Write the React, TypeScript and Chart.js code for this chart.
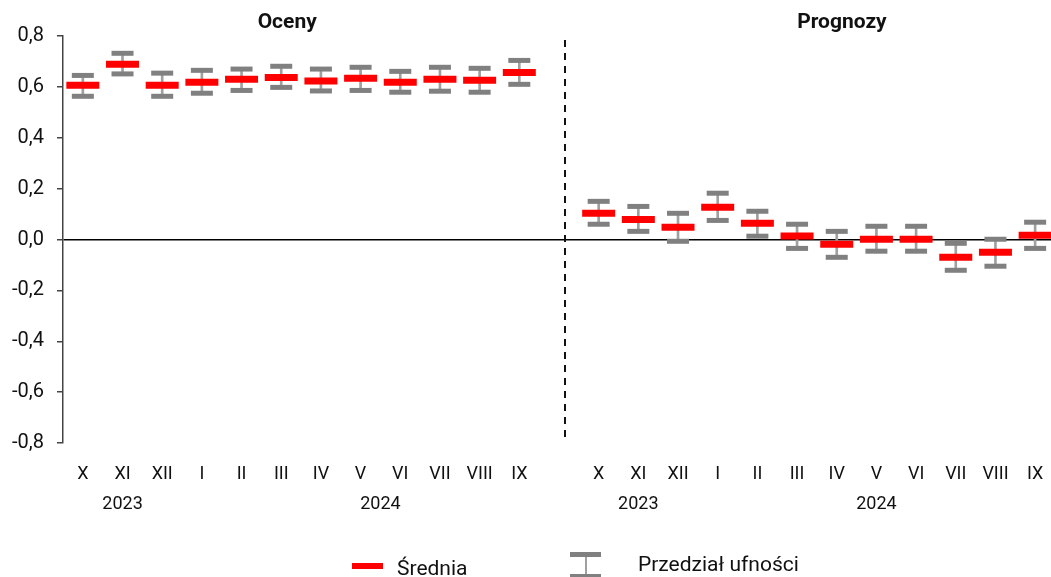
import React, { useEffect, useRef } from "react";
import { Chart, registerables } from "chart.js";

Chart.register(...registerables);

// ---- data ----
const months = ["X", "XI", "XII", "I", "II", "III", "IV", "V", "VI", "VII", "VIII", "IX"];
const ocenyMean = [0.606, 0.689, 0.606, 0.618, 0.63, 0.637, 0.623, 0.634, 0.618, 0.63, 0.626, 0.657];
const ocenyUpper = [0.645, 0.732, 0.654, 0.665, 0.67, 0.681, 0.67, 0.677, 0.661, 0.677, 0.673, 0.704];
const ocenyLower = [0.563, 0.651, 0.563, 0.575, 0.586, 0.598, 0.584, 0.586, 0.579, 0.583, 0.579, 0.61];
const prognozyMean = [0.103, 0.079, 0.048, 0.127, 0.064, 0.014, -0.019, 0.001, 0.001, -0.07, -0.05, 0.017];
const prognozyUpper = [0.15, 0.13, 0.103, 0.182, 0.111, 0.06, 0.032, 0.052, 0.052, -0.015, 0.001, 0.068];
const prognozyLower = [0.06, 0.032, -0.007, 0.075, 0.013, -0.035, -0.07, -0.046, -0.046, -0.121, -0.105, -0.035];
const yearLabels = ["2023", "2024", "2023", "2024"];
const yearPositions = [1, 7.5, 14, 20];
const panelTitles = ["Oceny", "Prognozy"];
const panelTitlePositions = [5.15, 19.13];
const dividerPosition = 12.15;
const yTickValues = [-0.8, -0.6, -0.4, -0.2, 0, 0.2, 0.4, 0.6, 0.8];

const rightOffset = months.length + 1;
const positions = [
  ...months.map((_, i) => i),
  ...months.map((_, i) => i + rightOffset),
];
const allLabels = [...months, ...months];
const allMean = [...ocenyMean, ...prognozyMean];
const allUpper = [...ocenyUpper, ...prognozyUpper];
const allLower = [...ocenyLower, ...prognozyLower];

const FONT = "Roboto";

const overlayPlugin = {
  id: "overlay",
  beforeDatasetsDraw(chart: any) {
    const { ctx, scales } = chart;
    const x = scales.x;
    const y = scales.y;
    const px = Math.round(x.getPixelForValue(dividerPosition));
    ctx.save();
    ctx.setLineDash([7, 6]);
    ctx.strokeStyle = "#111";
    ctx.lineWidth = 2;
    ctx.beginPath();
    ctx.moveTo(px, y.top + 4);
    ctx.lineTo(px, y.bottom);
    ctx.stroke();
    ctx.restore();
  },
  afterDraw(chart: any) {
    const { ctx, scales } = chart;
    const x = scales.x;
    const y = scales.y;
    ctx.save();
    ctx.fillStyle = "#111";
    ctx.textAlign = "center";
    ctx.textBaseline = "middle";
    ctx.font = `18px ${FONT}`;
    yearLabels.forEach((lbl, i) => {
      ctx.fillText(lbl, x.getPixelForValue(yearPositions[i]), y.bottom + 61);
    });
    ctx.font = `bold 21px ${FONT}`;
    panelTitles.forEach((t, i) => {
      ctx.fillText(t, x.getPixelForValue(panelTitlePositions[i]), y.top - 13);
    });
    ctx.restore();
  },
};

export default function App() {
  const ref = useRef<HTMLCanvasElement | null>(null);

  useEffect(() => {
    document.body.style.margin = "0";
    document.body.style.overflow = "hidden";
    const canvas = ref.current;
    if (!canvas) return;
    const chart = new Chart(canvas, {
      type: "scatter",
      data: {
        datasets: [
          {
            type: "scatter",
            label: "Średnia",
            data: positions.map((p, i) => ({ x: p, y: allMean[i] })),
            pointStyle: "line",
            pointRadius: 16.5,
            pointHoverRadius: 16.5,
            borderWidth: 7,
            borderColor: "#ff0000",
            backgroundColor: "#ff0000",
            order: 0,
          },
          {
            type: "scatter",
            label: "upper",
            data: positions.map((p, i) => ({ x: p, y: allUpper[i] })),
            pointStyle: "line",
            pointRadius: 11,
            pointHoverRadius: 11,
            borderWidth: 5,
            borderColor: "#808080",
            backgroundColor: "#808080",
            order: 1,
          },
          {
            type: "scatter",
            label: "lower",
            data: positions.map((p, i) => ({ x: p, y: allLower[i] })),
            pointStyle: "line",
            pointRadius: 11,
            pointHoverRadius: 11,
            borderWidth: 5,
            borderColor: "#808080",
            backgroundColor: "#808080",
            order: 1,
          },
          {
            type: "bar",
            label: "Przedział ufności",
            data: positions.map((p, i) => ({ x: p, y: [allLower[i], allUpper[i]] })) as any,
            backgroundColor: "#a0a0a0",
            borderWidth: 0,
            barThickness: 2,
            order: 2,
          } as any,
        ],
      },
      plugins: [overlayPlugin],
      options: {
        responsive: false,
        animation: false,
        layout: { autoPadding: false, padding: { top: 36, right: 0, left: 0, bottom: 0 } },
        plugins: {
          legend: { display: false },
          tooltip: { enabled: false },
        },
        events: [],
        scales: {
          x: {
            type: "linear",
            min: -0.5,
            max: 24.4,
            offset: false,
            grid: { display: false, offset: false },
            border: { display: false },
            afterBuildTicks: (scale: any) => {
              scale.ticks = positions.map((p) => ({ value: p }));
            },
            afterFit: (scale: any) => {
              scale.height = 134;
              scale.paddingLeft = 0;
              scale.paddingRight = 0;
            },
            ticks: {
              autoSkip: false,
              maxRotation: 0,
              padding: 13,
              color: "#111",
              font: { family: FONT, size: 18 },
              callback: (value: any) => {
                const idx = positions.indexOf(Number(value));
                return idx >= 0 ? allLabels[idx] : "";
              },
            },
          },
          y: {
            type: "linear",
            min: -0.8,
            max: 0.8,
            afterBuildTicks: (scale: any) => {
              scale.ticks = yTickValues.map((v) => ({ value: v }));
            },
            afterFit: (scale: any) => {
              scale.width = 63;
              scale.paddingTop = 0;
              scale.paddingBottom = 0;
            },
            border: { display: true, color: "#444", width: 1.5 },
            grid: {
              drawOnChartArea: true,
              drawTicks: true,
              tickLength: 6,
              tickColor: "#444",
              lineWidth: 1.5,
              color: (ctx: any) =>
                ctx.tick && Math.abs(ctx.tick.value) < 1e-9 ? "#000" : "rgba(0,0,0,0)",
            },
            ticks: {
              padding: 13,
              color: "#111",
              font: { family: FONT, size: 20 },
              callback: (value: any) => Number(value).toFixed(1).replace(".", ","),
            },
          },
        },
      },
    });
    return () => chart.destroy();
  }, []);

  return (
    <div style={{ position: "relative", width: 1051, height: 577, overflow: "hidden", background: "#fff" }}>
      <canvas ref={ref} width={1051} height={577} style={{ display: "block" }} />
      <div style={{ position: "absolute", left: 352, top: 563, width: 31, height: 6, background: "#ff0000" }} />
      <div
        style={{
          position: "absolute",
          left: 397,
          top: 558,
          fontFamily: FONT,
          fontSize: 21,
          lineHeight: "21px",
          color: "#111",
          whiteSpace: "nowrap",
        }}
      >
        Średnia
      </div>
      <div style={{ position: "absolute", left: 570, top: 552, width: 31, height: 5, background: "#808080" }} />
      <div style={{ position: "absolute", left: 585, top: 557, width: 2, height: 17, background: "#a0a0a0" }} />
      <div style={{ position: "absolute", left: 570, top: 574, width: 31, height: 5, background: "#808080" }} />
      <div
        style={{
          position: "absolute",
          left: 638,
          top: 554,
          fontFamily: FONT,
          fontSize: 21,
          lineHeight: "21px",
          color: "#111",
          whiteSpace: "nowrap",
        }}
      >
        Przedział ufności
      </div>
    </div>
  );
}
